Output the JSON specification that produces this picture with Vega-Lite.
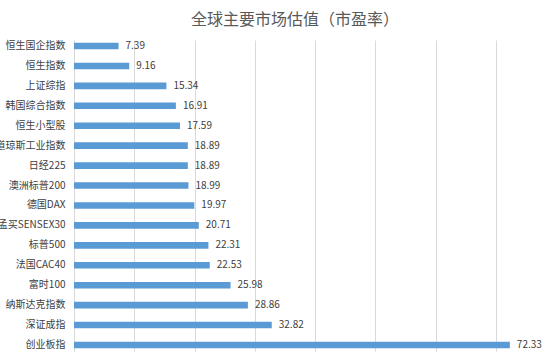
{
  "$schema": "https://vega.github.io/schema/vega-lite/v6.json",
  "autosize": {"type": "none"},
  "width": 470,
  "height": 311,
  "padding": {"left": 74, "top": 40, "right": 12, "bottom": 2},
  "background": "white",
  "title": {
    "text": "全球主要市场估值（市盈率）",
    "font": "Noto Sans CJK SC",
    "fontSize": 16,
    "fontWeight": "normal",
    "color": "#595959",
    "anchor": "middle",
    "dx": -14,
    "offset": 12
  },
  "config": {
    "view": {"stroke": null},
    "font": "Noto Sans CJK SC"
  },
  "data": {
    "values": [
      {"name": "恒生国企指数", "pe": 7.39},
      {"name": "恒生指数", "pe": 9.16},
      {"name": "上证综指", "pe": 15.34},
      {"name": "韩国综合指数", "pe": 16.91},
      {"name": "恒生小型股", "pe": 17.59},
      {"name": "道琼斯工业指数", "pe": 18.89},
      {"name": "日经225", "pe": 18.89},
      {"name": "澳洲标普200", "pe": 18.99},
      {"name": "德国DAX", "pe": 19.97},
      {"name": "孟买SENSEX30", "pe": 20.71},
      {"name": "标普500", "pe": 22.31},
      {"name": "法国CAC40", "pe": 22.53},
      {"name": "富时100", "pe": 25.98},
      {"name": "纳斯达克指数", "pe": 28.86},
      {"name": "深证成指", "pe": 32.82},
      {"name": "创业板指", "pe": 72.33}
    ]
  },
  "encoding": {
    "y": {
      "field": "name",
      "type": "nominal",
      "sort": null,
      "scale": {"paddingInner": 0.67, "paddingOuter": 0.135},
      "axis": {
        "title": null,
        "ticks": false,
        "domainColor": "#d9d9d9",
        "labelFont": "Noto Sans CJK SC",
        "labelFontSize": 10,
        "labelColor": "#404040",
        "labelPadding": 9
      }
    },
    "x": {
      "field": "pe",
      "type": "quantitative",
      "scale": {"domain": [0, 78], "nice": false},
      "axis": {
        "title": null,
        "labels": false,
        "ticks": false,
        "domain": false,
        "values": [0, 10, 20, 30, 40, 50, 60, 70],
        "grid": true,
        "gridColor": "#d9d9d9",
        "gridWidth": 1
      }
    }
  },
  "layer": [
    {"mark": {"type": "bar", "color": "#5b9bd5"}},
    {
      "mark": {
        "type": "text",
        "align": "left",
        "baseline": "middle",
        "dx": 7,
        "fontSize": 10,
        "color": "#404040",
        "font": "Noto Sans CJK SC"
      },
      "encoding": {
        "text": {"field": "pe", "type": "quantitative", "format": ".2f"}
      }
    }
  ]
}
